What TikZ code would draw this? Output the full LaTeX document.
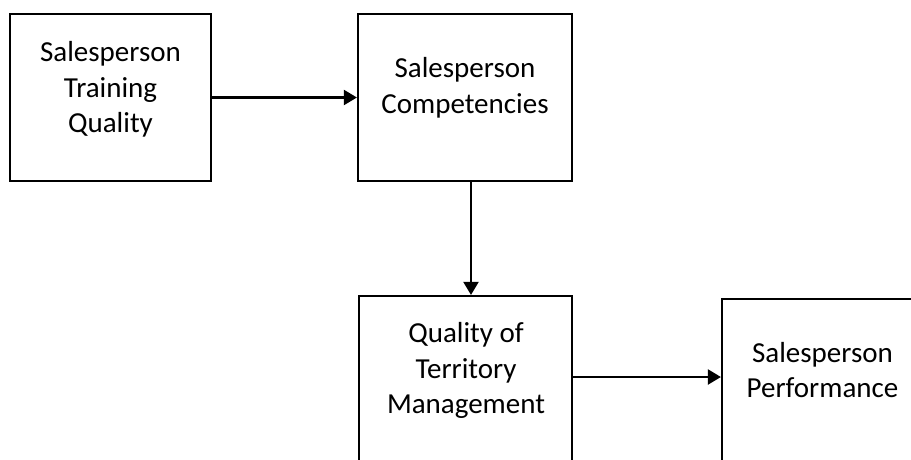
\documentclass[tikz,border=0pt]{standalone}
\usepackage{fontspec}
\setmainfont{Carlito}
\usetikzlibrary{arrows.meta,fit}
\begin{document}
\begin{tikzpicture}[x=1pt,y=-1pt,
  box/.style={draw=black,line width=2.2pt,inner sep=0pt,fill=none},
  txt/.style={inner sep=0pt,anchor=north,align=center,text=black,
    font=\fontsize{29}{35.6}\selectfont},
  arr/.style={draw=black,line width=2.2pt,-{Triangle[length=13pt,width=15pt]}}]
\clip (0,0) rectangle (911,459);
\fill[white] (0,0) rectangle (911,459);
\node[box,fit={(10,14) (211,181)}] (b1) {};
\node[box,fit={(358,14) (572,181)}] (b2) {};
\node[box,fit={(359,296) (572,472)}] (b3) {};
\node[box,fit={(722,299) (926,472)}] (b4) {};
\node[txt] (t1) at (110.5,36.5) {\rule{0pt}{25pt}Salesperson\\Training\\Quality};
\node[txt] (t2) at (465,52.5) {\rule{0pt}{25pt}Salesperson\\Competencies};
\node[txt] (t3) at (466,317.5) {\rule{0pt}{25pt}Quality of\\Territory\\Management};
\node[txt] (t4) at (822.5,337) {\rule{0pt}{25pt}Salesperson\\Performance};
\draw[arr] (b1.east) -- (b2.west);
\draw[arr] ([xshift=6pt]b2.south) -- ([xshift=6pt]b2.south |- b3.north);
\draw[arr] (b3.east |- 0,377) -- (b4.west |- 0,377);
\end{tikzpicture}
\end{document}
